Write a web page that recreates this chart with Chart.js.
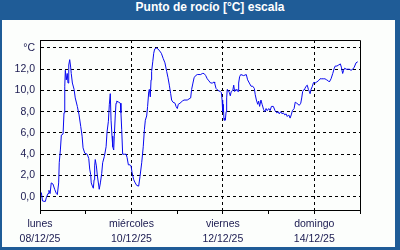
<!DOCTYPE html>
<html>
<head>
<meta charset="utf-8">
<script src="https://cdn.jsdelivr.net/npm/chart.js@4"></script>
<style>
  body { margin: 0; background: #ffffff; }
  #frame { position: relative; width: 400px; height: 250px; background: #1f5c97; overflow: hidden; }
  #title { position: absolute; left: 0; top: 0; width: 400px; height: 20px; line-height: 20px; padding-left: 20px; box-sizing: border-box;
           text-align: center; color: #ffffff; font: bold 12px "Liberation Sans", Arial, sans-serif; }
  #panel { position: absolute; left: 2px; top: 20px; width: 393px; height: 227px; background: #fcfefc; }
  #c { position: absolute; left: 0; top: 0; }
</style>
</head>
<body>
<div id="frame">
  <div id="title">Punto de rocío [°C] escala</div>
  <div id="panel"></div>
  <canvas id="c" width="400" height="250"></canvas>
</div>
<script>
// Hours since Mon 08/12/25 00:00
const hours = [
  0.7, 1.3, 2.8, 3.3, 4.2, 4.7, 5.3, 5.9, 6.8, 7.7, 8.6, 9.1, 9.8, 10.1, 10.7, 11.2, 12.1, 12.6, 13.0, 13.3,
  13.8, 14.3, 14.7, 15.1, 15.6, 16.1, 16.4, 17.0, 17.9, 18.5, 19.6, 20.5, 21.4, 22.1, 22.6, 23.5, 24.8, 25.6, 26.1, 26.6,
  26.9, 27.5, 28.0, 28.4, 28.7, 29.0, 29.6, 30.1, 31.1, 31.7, 32.4, 32.9, 33.8, 34.7, 35.2, 35.9, 36.4, 36.9, 37.3, 37.8,
  38.2, 38.7, 39.0, 39.5, 39.9, 40.3, 41.3, 42.2, 42.5, 42.9, 43.4, 44.3, 45.2, 45.7, 46.4, 47.3, 47.8, 48.3, 49.2, 50.0,
  50.8, 51.8, 52.5, 53.4, 54.2, 54.8, 55.3, 56.0, 56.5, 57.1, 57.4, 57.9, 58.3, 58.6, 59.2, 59.7, 60.2, 61.3, 62.5, 63.7,
  64.7, 65.6, 66.5, 67.2, 67.9, 68.6, 69.1, 69.8, 70.9, 71.4, 72.1, 72.6, 73.5, 74.7, 75.6, 77.3, 79.1, 79.6, 80.3, 80.9,
  81.7, 82.6, 84.4, 85.2, 86.1, 87.0, 87.8, 88.7, 89.6, 90.5, 91.4, 91.7, 92.4, 93.5, 94.7, 95.2, 95.6, 95.9, 96.2, 96.6,
  97.0, 97.3, 97.7, 98.0, 98.3, 98.9, 99.4, 99.9, 100.4, 101.2, 101.7, 102.2, 102.9, 103.4, 104.0, 104.3, 104.8, 105.4, 106.9, 108.3,
  109.0, 109.9, 110.8, 111.7, 112.5, 113.0, 113.6, 114.3, 114.8, 115.3, 116.0, 116.6, 117.4, 118.0, 118.7, 119.3, 120.1, 120.8, 121.5, 122.5,
  123.4, 124.3, 125.1, 125.6, 126.4, 127.1, 127.7, 128.5, 129.2, 129.8, 130.6, 131.3, 131.9, 132.5, 133.4, 134.0, 134.8, 135.5, 136.1, 136.9,
  137.4, 137.9, 138.6, 139.1, 139.7, 140.3, 140.9, 141.4, 141.8, 142.3, 143.0, 143.5, 144.0, 144.5, 145.3, 146.1, 147.0, 147.9, 148.7, 149.6,
  150.5, 151.4, 151.9, 152.8, 153.7, 154.5, 155.0, 155.9, 156.8, 157.7, 158.2, 158.9, 159.4, 160.0, 160.7, 162.4, 163.3, 164.2, 165.0, 165.9,
  166.8
];
const dewPoint = [
  0.4, -0.4, -0.45, -0.1, 0.3, 0.6, 0.3, 1.3, 1.2, 0.7, 0.3, 0.2, 1.3, 3.2, 4.4, 5.8, 5.9, 7.9, 10.4, 11.9,
  11.0, 11.6, 10.7, 12.4, 12.9, 12.2, 11.6, 10.7, 10.1, 9.3, 8.5, 7.7, 6.6, 5.7, 4.6, 4.1, 4.0, 3.6, 2.6, 2.1,
  1.3, 1.0, 0.8, 1.6, 2.9, 3.5, 2.9, 2.0, 0.7, 1.3, 2.2, 3.2, 3.8, 4.7, 6.1, 7.1, 8.7, 9.7, 7.2, 5.7,
  4.7, 4.4, 5.7, 7.6, 8.8, 9.0, 8.9, 8.8, 7.9, 6.3, 4.0, 4.0, 4.0, 3.7, 3.0, 3.0, 2.9, 2.3, 1.6, 1.3,
  1.06, 1.0, 1.9, 3.2, 4.7, 6.3, 7.2, 7.6, 8.5, 9.9, 10.1, 9.4, 11.0, 11.8, 12.7, 13.5, 13.9, 14.0, 13.8, 13.5,
  13.0, 12.6, 11.8, 11.2, 10.5, 9.7, 9.1, 8.9, 8.8, 8.5, 8.3, 8.7, 8.8, 9.0, 9.1, 9.1, 9.3, 10.1, 10.7, 11.2,
  11.4, 11.5, 11.5, 11.6, 11.6, 11.4, 11.1, 10.9, 10.7, 10.7, 10.8, 10.7, 10.2, 10.0, 9.9, 9.8, 9.1, 8.0, 8.7, 7.2,
  7.4, 7.2, 8.0, 9.3, 10.1, 10.0, 9.8, 9.5, 9.9, 10.0, 10.5, 9.9, 10.1, 10.0, 9.9, 10.7, 11.3, 11.5, 11.4, 11.5,
  11.0, 10.7, 10.4, 10.4, 10.2, 9.6, 9.1, 8.7, 9.0, 8.5, 9.1, 8.7, 8.2, 8.0, 8.3, 8.1, 8.3, 8.1, 8.5, 8.5,
  8.1, 7.9, 8.0, 7.8, 8.0, 7.8, 7.9, 7.7, 7.8, 7.55, 7.7, 7.4, 7.7, 8.1, 8.3, 8.9, 8.8, 8.7, 8.6, 8.8,
  9.3, 9.9, 10.1, 10.2, 10.4, 10.5, 10.1, 9.9, 9.7, 10.1, 10.4, 10.7, 10.8, 10.7, 10.8, 10.9, 11.1, 11.1, 11.1, 11.1,
  11.0, 10.9, 10.8, 11.1, 11.6, 12.1, 12.3, 12.3, 12.4, 12.5, 12.2, 11.6, 11.9, 12.1, 12.0, 12.0, 11.9, 12.0, 12.2, 12.6,
  12.7
];
const dayTicks = [0, 24, 48, 72, 96, 120, 144, 168];
const dayNames = ['lunes', '', 'miércoles', '', 'viernes', '', 'domingo', ''];
const dayDates = ['08/12/25', '', '10/12/25', '', '12/12/25', '', '14/12/25', ''];
const yTicks = [0, 2, 4, 6, 8, 10, 12, 14];
const yUnitLabel = '°C';

const points = hours.map((h, i) => ({ x: h, y: dewPoint[i] }));
const textColor = '#1a1a50';
const font = { family: '"Liberation Sans", Arial, sans-serif', size: 10.5, lineHeight: '15px' };

const frameBox = {
  id: 'frameBox',
  afterDraw(chart) {
    const a = chart.chartArea, ctx = chart.ctx;
    ctx.save();
    ctx.strokeStyle = '#000';
    ctx.lineWidth = 1;
    ctx.beginPath();
    ctx.moveTo(Math.round(a.left) + 0.5, Math.round(a.top) + 0.5);
    ctx.lineTo(Math.round(a.right) + 0.5, Math.round(a.top) + 0.5);
    ctx.lineTo(Math.round(a.right) + 0.5, Math.round(a.bottom) + 0.5);
    ctx.stroke();
    ctx.restore();
  }
};

new Chart(document.getElementById('c'), {
  type: 'line',
  data: {
    datasets: [{
      data: points,
      borderColor: '#0808f0',
      borderWidth: 1,
      pointRadius: 0,
      tension: 0,
      fill: false
    }]
  },
  options: {
    responsive: false,
    animation: false,
    devicePixelRatio: 1,
    layout: { padding: { left: 0, top: 40, right: 40, bottom: 0 } },
    plugins: { legend: { display: false }, title: { display: false }, tooltip: { enabled: false } },
    scales: {
      x: {
        type: 'linear',
        min: 0,
        max: 168,
        afterBuildTicks: s => { s.ticks = dayTicks.map(v => ({ value: v })); },
        afterFit: s => { s.height = 40; },
        grid: {
          color: c => (c.tick && c.tick.value % 48 === 0 && c.tick.value > 0 && c.tick.value < 168) ? '#000' : 'rgba(0,0,0,0)',
          tickColor: '#000',
          tickLength: 4,
          drawTicks: true,
          tickBorderDash: []
        },
        border: { display: true, color: '#000', width: 1, dash: [3, 3] },
        ticks: {
          autoSkip: false,
          maxRotation: 0,
          padding: 3,
          color: textColor,
          font: font,
          callback: (v, i) => {
            const k = dayTicks.indexOf(v);
            return (k >= 0 && dayNames[k]) ? [dayNames[k], dayDates[k]] : '';
          }
        }
      },
      y: {
        min: -1.25,
        max: 14.75,
        afterBuildTicks: s => { s.ticks = yTicks.map(v => ({ value: v })); },
        afterFit: s => { s.width = 40; },
        grid: { color: '#000', drawTicks: false },
        border: { display: true, color: '#000', width: 1, dash: [3, 3] },
        ticks: {
          padding: 5,
          color: textColor,
          font: { family: font.family, size: 10.5 },
          callback: v => v === 14 ? yUnitLabel : v.toFixed(1).replace('.', ',')
        }
      }
    }
  },
  plugins: [frameBox]
});
</script>
</body>
</html>
